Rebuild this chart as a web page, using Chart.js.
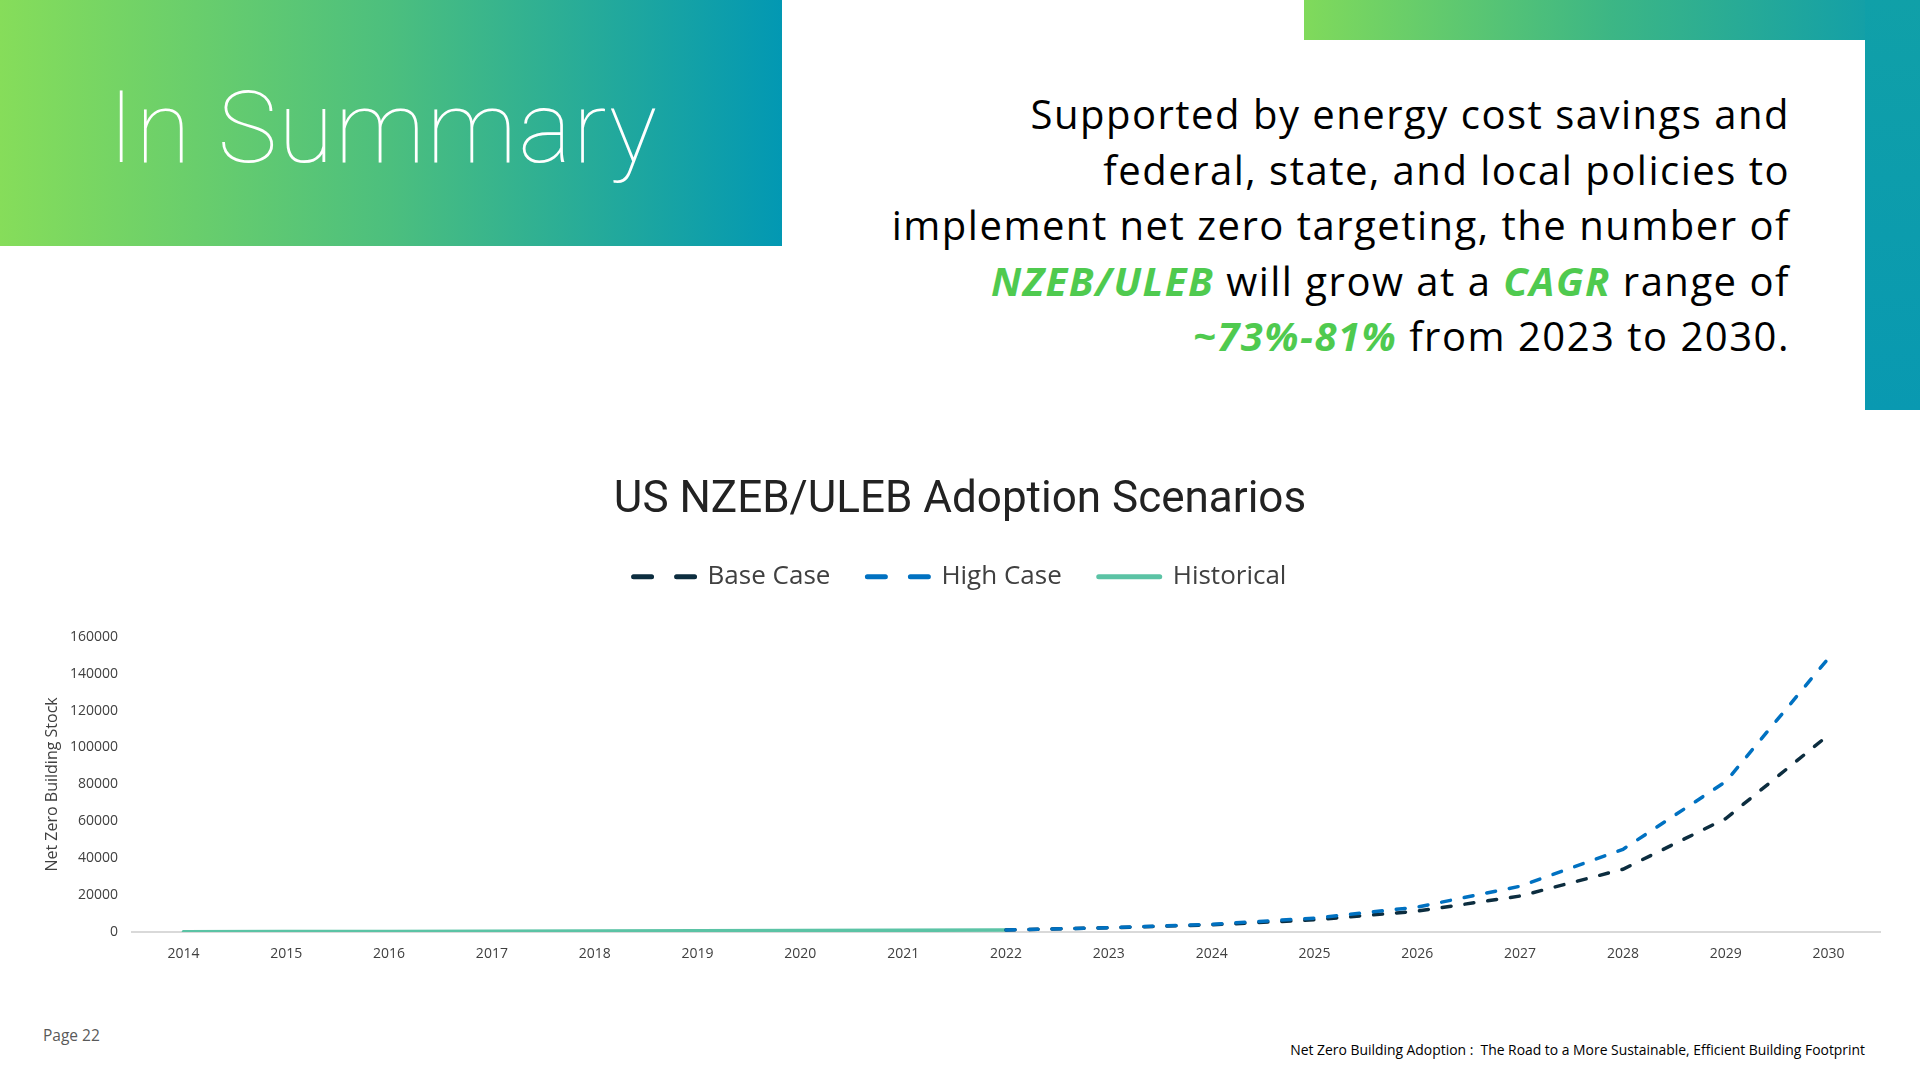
<!DOCTYPE html>
<html>
<head>
<meta charset="utf-8">
<script src="https://cdn.jsdelivr.net/npm/chart.js@4/dist/chart.umd.min.js"></script>
<style>
html,body{margin:0;padding:0;width:1920px;height:1080px;background:#fff;overflow:hidden;font-family:'Open Sans',sans-serif;}
.box{position:absolute;left:0;top:0;width:782px;height:246px;background:linear-gradient(90deg,#86dd5a 0%,#4cbf7e 50%,#0298b3 100%);}
.topbar{position:absolute;left:1304px;top:0;width:616px;height:40px;background:linear-gradient(90deg,#80da5b 0%,#3cb685 50%,#0b9bae 100%);}
.sidebar{position:absolute;left:1865px;top:0;width:55px;height:410px;background:linear-gradient(180deg,#10a0a8,#0999b1);}
.h1{position:absolute;left:108px;top:77px;font-family:Roboto,sans-serif;font-weight:100;font-size:101px;line-height:1;letter-spacing:1.2px;color:#fff;white-space:nowrap;}
.para{position:absolute;right:130px;top:86px;text-align:right;font-family:'Open Sans',sans-serif;font-size:40px;letter-spacing:1.5px;line-height:55.5px;color:#000;white-space:nowrap;}
.para .g{color:#4fca4f;font-weight:700;font-style:italic;}
#wrap{position:absolute;left:0;top:440px;width:1920px;height:560px;}
.page{position:absolute;left:43px;top:1024px;font-family:'Open Sans',sans-serif;font-size:15.5px;color:#595959;}
.foot{position:absolute;right:55px;top:1040px;font-family:'Open Sans',sans-serif;font-size:13.9px;color:#000;white-space:pre;}
</style>
</head>
<body>
<div class="box"></div>
<div class="topbar"></div>
<div class="sidebar"></div>
<div class="h1">In Summary</div>
<div class="para">Supported by energy cost savings and<br>federal, state, and local policies to<br>implement net zero targeting, the number of<br><span class="g">NZEB/ULEB</span> will grow at a <span class="g">CAGR</span> range of<br><span class="g">~73%-81%</span> from 2023 to 2030.</div>
<div id="wrap"><canvas id="c" width="1920" height="560"></canvas></div>
<div class="page">Page 22</div>
<div class="foot">Net Zero Building Adoption :  The Road to a More Sustainable, Efficient Building Footprint</div>
<script>
const years = ['2014','2015','2016','2017','2018','2019','2020','2021','2022','2023','2024','2025','2026','2027','2028','2029','2030'];
const baseCase = [null,null,null,null,null,null,null,null,1100,2300,3900,6600,11300,19500,34000,61500,106800];
const highCase = [null,null,null,null,null,null,null,null,1100,2350,4200,7500,13500,24800,44800,81500,148500];
const historical = [200,250,320,400,500,620,750,900,1100,null,null,null,null,null,null,null,null];
const chartTitle = 'US NZEB/ULEB Adoption Scenarios';
const yAxisTitle = 'Net Zero Building Stock';
const yMax = 160000;
const yStep = 20000;

const ctx = document.getElementById('c').getContext('2d');
new Chart(ctx, {
  type: 'line',
  data: {
    labels: years,
    datasets: [
      {label:'Base Case', data: baseCase, xAxisID:'x', yAxisID:'y', borderColor:'#0c2d3f', backgroundColor:'#0c2d3f', borderWidth:3.5, borderDash:[9,14], borderCapStyle:'round', pointRadius:0, tension:0, order:1},
      {label:'High Case', data: highCase, xAxisID:'x', yAxisID:'y', borderColor:'#0071c1', backgroundColor:'#0071c1', borderWidth:3.5, borderDash:[9,14], borderCapStyle:'round', pointRadius:0, tension:0, order:0},
      {label:'Historical', data: historical, xAxisID:'x', yAxisID:'y', borderColor:'#5bc3a5', backgroundColor:'#5bc3a5', borderWidth:3.5, borderCapStyle:'round', pointRadius:0, tension:0, order:2}
    ]
  },
  options: {
    responsive:false,
    animation:false,
    layout:{padding:{left:40,right:40,top:0,bottom:28}},
    plugins:{
      tooltip:{enabled:false},
      title:{display:true,text:chartTitle,color:'#222222',font:{family:'Roboto',size:44,weight:'normal'},padding:{top:35,bottom:-1}},
      legend:{
        display:true,position:'top',
        labels:{
          usePointStyle:true,pointStyleWidth:61,padding:37,color:'#404040',
          font:{family:'Open Sans',size:26},
          generateLabels(chart){
            return chart.data.datasets.map((ds,i)=>({
              text:ds.label,datasetIndex:i,hidden:false,
              fillStyle:ds.borderColor,strokeStyle:ds.borderColor,
              lineWidth:5,lineCap:'round',
              lineDash:(ds.borderDash&&ds.borderDash.length)?[18,25]:[],
              pointStyle:'line',fontColor:'#404040'
            }));
          }
        }
      }
    },
    scales:{
      x:{
        type:'category',position:'bottom',offset:true,
        grid:{display:false,drawTicks:false},
        border:{display:true,color:'#d9d9d9',width:2},
        ticks:{color:'#404040',font:{family:'Open Sans',size:14},padding:14,maxRotation:0,autoSkip:false},
        afterFit(s){s.height=40;}
      },
      xTop:{type:'category',position:'top',display:true,grid:{display:false,drawTicks:false},border:{display:false},ticks:{display:false},afterFit(s){s.height=37;}},
      y:{
        min:0,max:yMax,
        grid:{display:false,drawTicks:false},
        border:{display:false},
        ticks:{stepSize:yStep,color:'#404040',font:{family:'Open Sans',size:14},padding:14,callback:v=>String(v)},
        title:{display:true,text:yAxisTitle,color:'#404040',font:{family:'Open Sans',size:16},padding:{top:3,bottom:0}},
        afterFit(s){s.width=92;}
      }
    }
  }
});
</script>
</body>
</html>
